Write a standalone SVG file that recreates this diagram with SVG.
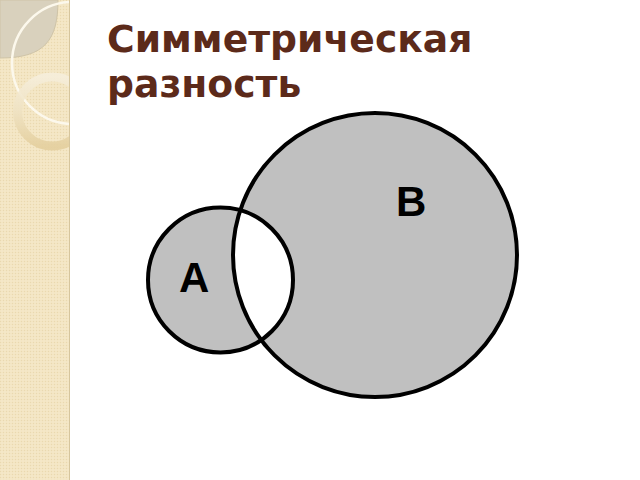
<svg xmlns="http://www.w3.org/2000/svg" width="640" height="480" viewBox="0 0 640 480">
  <defs>
    <pattern id="tex" width="3" height="3" patternUnits="userSpaceOnUse">
      <rect width="3" height="3" fill="#f3e5c2"/>
      <rect x="0" y="0" width="1" height="1" fill="#e9d8b0"/>
      <rect x="1.5" y="1.5" width="1" height="1" fill="#f8eed6"/>
    </pattern>
    <linearGradient id="ringGrad" x1="0" y1="0" x2="0" y2="1">
      <stop offset="0" stop-color="#f6eedb"/>
      <stop offset="0.5" stop-color="#efe2c2"/>
      <stop offset="1" stop-color="#e4cf9e"/>
    </linearGradient>
    <clipPath id="stripClip">
      <rect x="0" y="0" width="69" height="480"/>
    </clipPath>
    <clipPath id="clipA">
      <circle cx="220.5" cy="280" r="72.5"/>
    </clipPath>
    <style>
      .title { font-family: "DejaVu Sans", Verdana, sans-serif; font-weight: bold; font-size: 37.7px; fill: #5c2a1a; }
      .lbl { font-family: "Liberation Sans", Arial, sans-serif; font-weight: bold; font-size: 42px; fill: #000; }
      .set { fill: #c0c0c0; }
      .edge { fill: none; stroke: #000; stroke-width: 4; }
    </style>
  </defs>
  <rect width="640" height="480" fill="#ffffff"/>

  <!-- decorative left strip -->
  <g id="strip">
    <rect x="0" y="0" width="69" height="480" fill="url(#tex)"/>
    <g clip-path="url(#stripClip)">
      <path d="M0,0 H58 C58,40 45,58 0,58 Z" fill="#d9d1bd" stroke="#cfc4a8" stroke-width="1"/>
      <circle cx="73" cy="63" r="61" fill="none" stroke="#fcf8ec" stroke-width="2.5"/>
      <circle cx="52" cy="111.5" r="34.5" fill="none" stroke="url(#ringGrad)" stroke-width="9" opacity="0.9"/>
    </g>
    <line x1="69.5" y1="0" x2="69.5" y2="480" stroke="#d6c59c" stroke-width="1"/>
  </g>

  <g id="title">
    <text class="title" x="107" y="52">Симметрическая</text>
    <text class="title" x="107" y="97">разность</text>
  </g>

  <g id="setB">
    <circle class="set" cx="375" cy="255" r="142"/>
  </g>
  <g id="setA">
    <circle class="set" cx="220.5" cy="280" r="72.5"/>
  </g>
  <g id="intersection">
    <circle cx="375" cy="255" r="142" fill="#ffffff" clip-path="url(#clipA)"/>
  </g>
  <g id="outlines">
    <circle class="edge" cx="375" cy="255" r="142"/>
    <circle class="edge" cx="220.5" cy="280" r="72.5"/>
  </g>
  <g id="labels">
    <text class="lbl" x="179" y="292">A</text>
    <text class="lbl" x="396" y="216">B</text>
  </g>
</svg>
